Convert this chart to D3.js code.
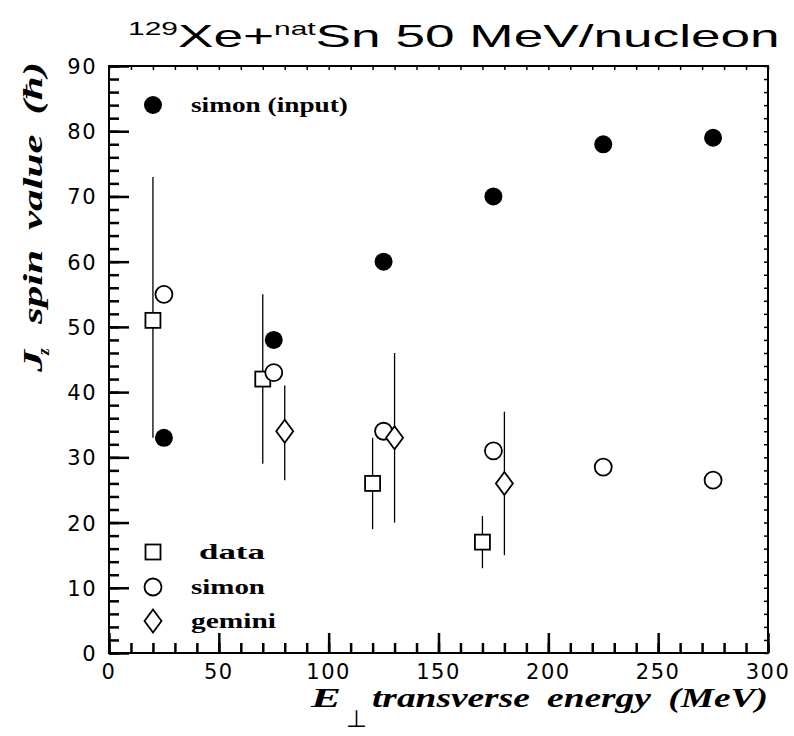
<!DOCTYPE html>
<html>
<head>
<meta charset="utf-8">
<script src="https://cdn.jsdelivr.net/npm/d3@7"></script>
<style>
  body { margin: 0; background: #fff; }
  svg { display: block; }
</style>
</head>
<body>
<svg id="chart"></svg>
<script>
// values
const simonInputX = [25, 75, 125, 175, 225, 275];
const simonInputY = [33, 48, 60, 70, 78, 79];

const simonX = [25, 75, 125, 175, 225, 275];
const simonY = [55, 43, 34, 31, 28.5, 26.5];

const dataX = [20, 70, 120, 170];
const dataY = [51, 42, 26, 17];
const dataLo = [33, 29, 19, 13];
const dataHi = [73, 55, 33, 21];

const geminiX = [80, 130, 180];
const geminiY = [34, 33, 26];
const geminiLo = [26.5, 20, 15];
const geminiHi = [41, 46, 37];

const xTicks = [0, 50, 100, 150, 200, 250, 300];
const yTicks = [0, 10, 20, 30, 40, 50, 60, 70, 80, 90];

const width = 794, height = 736;
const margin = { top: 66, right: 26, bottom: 83, left: 109 };

const svg = d3.select('#chart')
    .attr('width', width)
    .attr('height', height);

const x = d3.scaleLinear().domain([0, 300]).range([margin.left, width - margin.right]);
const y = d3.scaleLinear().domain([0, 90]).range([height - margin.bottom, margin.top]);

const sansFont = 'Liberation Sans, Arial, sans-serif';
const numFont = 'DejaVu Sans, sans-serif';
const serifFont = 'Liberation Serif, Times New Roman, serif';

// stretch a text horizontally (in its own frame) so it covers the target width
function stretch(sel, target) {
    const w = sel.node().getComputedTextLength();
    const k = target / w;
    const tx = +sel.attr('x'), ty = +sel.attr('y');
    sel.attr('transform', `translate(${tx},${ty}) scale(${k},1) translate(${-tx},${-ty})`);
}

// frame
svg.append('rect')
    .attr('x', x(0)).attr('y', y(90))
    .attr('width', x(300) - x(0)).attr('height', y(0) - y(90))
    .attr('fill', 'none').attr('stroke', '#000').attr('stroke-width', 2);

// ticks point into the frame: minor every 10 / 2, major every 50 / 10
const xMinor = d3.range(0, 301, 10);
const yMinor = d3.range(0, 91, 2);

function tickAxis(axis, tr, sw) {
    const gAx = svg.append('g').attr('transform', tr).call(axis);
    gAx.select('.domain').remove();
    gAx.selectAll('text').remove();
    gAx.selectAll('line').attr('stroke', '#000').attr('stroke-width', sw);
}
tickAxis(d3.axisBottom(x).tickValues(xMinor).tickSize(-10), `translate(0,${y(0)})`, 2.5);
tickAxis(d3.axisBottom(x).tickValues(xTicks).tickSize(-20), `translate(0,${y(0)})`, 2.5);
tickAxis(d3.axisLeft(y).tickValues(yMinor).tickSize(-10), `translate(${x(0)},0)`, 2.5);
tickAxis(d3.axisLeft(y).tickValues(yTicks).tickSize(-20), `translate(${x(0)},0)`, 2.5);
tickAxis(d3.axisTop(x).tickValues(xMinor).tickSize(-4), `translate(0,${y(90)})`, 1.5);
tickAxis(d3.axisRight(y).tickValues(yMinor).tickSize(-4), `translate(${x(300)},0)`, 1.5);

// tick labels
svg.append('g').selectAll('text').data(xTicks).join('text')
    .attr('x', d => x(d)).attr('y', y(0) + 26)
    .attr('text-anchor', 'middle')
    .style('font-family', numFont).style('font-size', '21px')
    .style('letter-spacing', '1.5px')
    .text(d => d);

svg.append('g').selectAll('text').data(yTicks).join('text')
    .attr('x', x(0) - 12).attr('y', d => y(d) + 8)
    .attr('text-anchor', 'end')
    .style('font-family', numFont).style('font-size', '21px')
    .style('letter-spacing', '1.5px')
    .text(d => d);

// title
const title = svg.append('text')
    .attr('x', 128).attr('y', 47)
    .style('font-family', sansFont).style('font-size', '32px');
title.append('tspan').attr('dy', -12).style('font-size', '18px').text('129');
title.append('tspan').attr('dy', 12).text('Xe+');
title.append('tspan').attr('dy', -12).style('font-size', '18px').text('nat');
title.append('tspan').attr('dy', 12).text('Sn 50 MeV/nucleon');
stretch(title, 652);

// x axis title
const axisStyle = sel => sel.style('font-family', serifFont).style('font-size', '28px')
    .style('font-weight', 'bold').style('font-style', 'italic');
const eLab = svg.append('text').attr('x', 311).attr('y', 707).call(axisStyle).text('E');
stretch(eLab, 30);
svg.append('text').attr('x', 346).attr('y', 727)
    .style('font-family', sansFont).style('font-size', '24px').text('\u22A5');
const xTitle = svg.append('text').attr('x', 372).attr('y', 707).call(axisStyle)
    .style('word-spacing', '6px')
    .text('transverse energy (MeV)');
stretch(xTitle, 396);

// y axis title
const yLab = svg.append('g').attr('transform', 'translate(42,372) rotate(-90)');
const jLab = yLab.append('text').attr('x', 0).attr('y', 0).call(axisStyle).text('J');
stretch(jLab, 22);
yLab.append('text').attr('x', 17).attr('y', 7).call(axisStyle)
    .style('font-size', '17px').text('z');
const yTitle = yLab.append('text').attr('x', 48).attr('y', 0).call(axisStyle)
    .style('word-spacing', '6px')
    .text('spin value (\u0127)');
stretch(yTitle, 262);

// error bars
const plot = svg.append('g');
plot.selectAll('.err-data').data(dataX).join('line').attr('class', 'err-data')
    .attr('x1', d => x(d)).attr('x2', d => x(d))
    .attr('y1', (d, i) => y(dataLo[i])).attr('y2', (d, i) => y(dataHi[i]))
    .attr('stroke', '#000').attr('stroke-width', 1.3);
plot.selectAll('.err-gem').data(geminiX).join('line').attr('class', 'err-gem')
    .attr('x1', d => x(d)).attr('x2', d => x(d))
    .attr('y1', (d, i) => y(geminiLo[i])).attr('y2', (d, i) => y(geminiHi[i]))
    .attr('stroke', '#000').attr('stroke-width', 1.3);

// markers
const sq = 15, rad = 8.5;
function square(sel, cx, cy) {
    sel.append('rect').attr('x', cx - sq / 2).attr('y', cy - sq / 2)
        .attr('width', sq).attr('height', sq)
        .attr('fill', '#fff').attr('stroke', '#000').attr('stroke-width', 1.8);
}
function openCircle(sel, cx, cy) {
    sel.append('circle').attr('cx', cx).attr('cy', cy).attr('r', rad)
        .attr('fill', '#fff').attr('stroke', '#000').attr('stroke-width', 1.8);
}
function diamond(sel, cx, cy) {
    sel.append('path')
        .attr('d', `M${cx},${cy - 11.5}L${cx + 8.5},${cy}L${cx},${cy + 11.5}L${cx - 8.5},${cy}Z`)
        .attr('fill', '#fff').attr('stroke', '#000').attr('stroke-width', 1.8);
}
function dot(sel, cx, cy) {
    sel.append('circle').attr('cx', cx).attr('cy', cy).attr('r', 9)
        .attr('fill', '#000');
}

dataX.forEach((d, i) => square(plot, x(d), y(dataY[i])));
simonX.forEach((d, i) => openCircle(plot, x(d), y(simonY[i])));
geminiX.forEach((d, i) => diamond(plot, x(d), y(geminiY[i])));
simonInputX.forEach((d, i) => dot(plot, x(d), y(simonInputY[i])));

// legend
const leg = svg.append('g');
const legText = (tx, ty, s, w) => {
    const t = leg.append('text').attr('x', tx).attr('y', ty)
        .style('font-family', serifFont).style('font-size', '21px').style('font-weight', 'bold')
        .text(s);
    stretch(t, w);
};
dot(leg, 153, 105);
legText(191, 112, 'simon (input)', 157);
square(leg, 153, 552);
legText(199, 559, 'data', 66);
openCircle(leg, 153, 587);
legText(191, 594, 'simon', 74);
diamond(leg, 153, 621);
legText(191, 628, 'gemini', 85);
</script>
</body>
</html>
